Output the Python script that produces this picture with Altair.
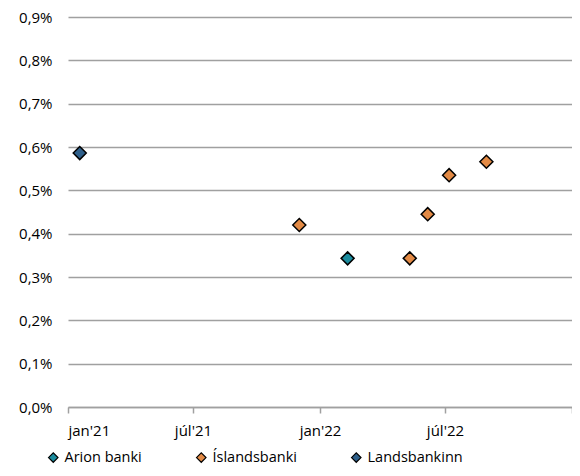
import altair as alt
import pandas as pd

banks = ["Landsbankinn", "Íslandsbanki", "Arion banki", "Íslandsbanki",
         "Íslandsbanki", "Íslandsbanki", "Íslandsbanki"]
dates = ["2021-01-18", "2021-12-02", "2022-02-10", "2022-05-11",
         "2022-06-06", "2022-07-07", "2022-08-30"]
values = [0.586, 0.420, 0.343, 0.343, 0.445, 0.535, 0.566]

series = ["Arion banki", "Íslandsbanki", "Landsbankinn"]
colors = ["#1b8c9e", "#e38a45", "#2e5f8a"]
y_ticks = [0.0, 0.1, 0.2, 0.3, 0.4, 0.5, 0.6, 0.7, 0.8, 0.9]
x_ticks = ["2021-01-01", "2021-07-01", "2022-01-01", "2022-07-01", "2023-01-01"]

df = pd.DataFrame({"bank": banks, "date": dates, "value": values})

FONT = "Open Sans"
GRID = "#a0a0a0"

def dt(s):
    y, m, d = map(int, s.split("-"))
    return alt.DateTime(year=y, month=m, date=d, utc=True)

chart = alt.Chart(df).mark_point(
    shape="diamond", filled=True, size=170, stroke="black", strokeWidth=1.5, opacity=1
).encode(
    x=alt.X("date:T",
            scale=alt.Scale(type="utc", domain=[dt(x_ticks[0]), dt(x_ticks[-1])]),
            axis=alt.Axis(
                title=None, values=[dt(v) for v in x_ticks], grid=False,
                domainColor=GRID, domainWidth=1.5, tickColor=GRID, tickWidth=1.5,
                tickSize=6, labelPadding=10, labelFont=FONT, labelFontSize=15,
                labelColor="black",
                labelExpr="utcyear(datum.value) > 2022 ? '' : (utcmonth(datum.value) == 0 ? 'jan' : 'júl') + \"'\" + utcFormat(datum.value, '%y')",
            )),
    y=alt.Y("value:Q",
            scale=alt.Scale(domain=[0, 0.9], nice=False, zero=True),
            axis=alt.Axis(
                title=None, values=y_ticks, domain=False, ticks=False,
                gridColor=GRID, gridWidth=1.5, labelPadding=16,
                labelFont=FONT, labelFontSize=15, labelColor="black",
                labelExpr="replace(format(datum.value, '.1f'), '.', ',') + '%'",
            )),
    color=alt.Color("bank:N",
                    scale=alt.Scale(domain=series, range=colors),
                    legend=alt.Legend(
                        title=None, orient="none", direction="horizontal",
                        legendX=-22, legendY=433, columnPadding=52,
                        symbolType="diamond", symbolSize=90,
                        symbolStrokeColor="black", symbolStrokeWidth=1.2,
                        labelFont=FONT, labelFontSize=14.5, labelColor="black",
                        labelOffset=4, padding=0,
                    )),
).properties(
    width=504, height=390,
    autosize=alt.AutoSizeParams(type="none"),
    padding={"left": 60, "top": 9, "right": 0, "bottom": 60},
).configure_view(stroke=None)

chart.save("out.html", embed_options={"renderer": "svg", "actions": False})
